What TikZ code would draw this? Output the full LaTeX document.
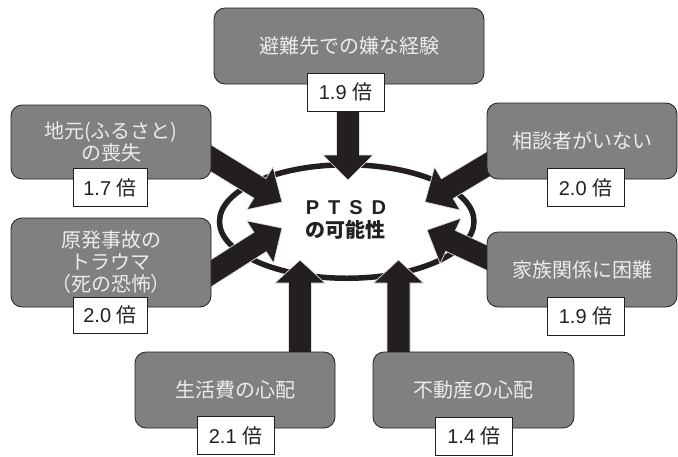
\documentclass[tikz,border=0pt]{standalone}
\usepackage{fontspec}
\setmainfont{Liberation Sans}
\newfontfamily\jp{Noto Sans CJK JP}
\usetikzlibrary{calc,shapes.geometric}
\pgfdeclarelayer{bg}
\pgfsetlayers{bg,main}
\definecolor{boxgray}{RGB}{128,128,131}
\definecolor{boxtext}{RGB}{236,236,236}
\definecolor{ink}{RGB}{35,31,32}
\tikzset{
  factor/.style={draw=ink, line width=0.8pt, fill=boxgray, rounded corners=11pt,
    text=boxtext, font=\jp\fontsize{20}{22}\selectfont, align=center, inner sep=0pt},
  ratio/.style={draw=ink, line width=0.8pt, fill=white, text=ink,
    font=\fontsize{20}{22}\selectfont, inner sep=0pt, minimum width=77pt, minimum height=38pt},
  fat/.style={fill=ink, draw=gray!25, line width=0.7pt, line join=miter},
  oval/.style={ellipse, draw=ink, line width=5.5pt, inner sep=0pt,
    minimum width=254.5pt, minimum height=113.5pt},
}
% #1 start, #2 tip, #3 head length
\newcommand\fatarrow[3]{%
  \coordinate (hb) at ($(#2)!#3!(#1)$);
  \path[fat] ($(#1)!11.5pt!90:(#2)$) -- ($(hb)!11.5pt!90:(#2)$) -- ($(hb)!25pt!90:(#2)$)
    -- (#2) -- ($(hb)!25pt!-90:(#2)$) -- ($(hb)!11.5pt!-90:(#2)$) -- ($(#1)!11.5pt!-90:(#2)$) -- cycle;
}
\begin{document}
\begin{tikzpicture}[x=1pt, y=-1pt]
\useasboundingbox (0,0) rectangle (678,456);

% factor boxes
\node[factor, minimum width=270pt, minimum height=76pt] (top) at (349,46) {避難先での嫌な経験};
\node[factor, minimum width=200pt, minimum height=74pt] (lt) at (111,142) {地元(ふるさと)\\の喪失};
\node[factor, minimum width=200pt, minimum height=89pt] (lm) at (111,262.5) {原発事故の\\トラウマ\\（死の恐怖）};
\node[factor, minimum width=190pt, minimum height=76pt] (rt) at (582,141) {相談者がいない};
\node[factor, minimum width=190pt, minimum height=75pt] (rm) at (582,269.5) {家族関係に困難};
\node[factor, minimum width=200pt, minimum height=76pt] (bl) at (235,390) {生活費の心配};
\node[factor, minimum width=201pt, minimum height=76pt] (br) at (473.5,390) {不動産の心配};

% ratio labels
\node[ratio] (topr) at (345.5,92) {1.9 {\jp 倍}};
\node[ratio, minimum width=74pt] (ltr) at (110,187.5) {1.7 {\jp 倍}};
\node[ratio, minimum width=74pt, minimum height=36pt] (lmr) at (110,315) {2.0 {\jp 倍}};
\node[ratio] (rtr) at (585.5,187.5) {2.0 {\jp 倍}};
\node[ratio] (rmr) at (585.5,316) {1.9 {\jp 倍}};
\node[ratio] (blr) at (235.5,435.5) {2.1 {\jp 倍}};
\node[ratio] (brr) at (474,436) {1.4 {\jp 倍}};

% centre
\node[font=\bfseries\fontsize{20}{22}\selectfont, text=ink, inner sep=0pt] (ptsd) at (346,208) {P\hspace{9pt}T\hspace{9pt}S\hspace{9pt}D};
\node[font=\jp\bfseries\fontsize{20}{22}\selectfont, text=ink, inner sep=0pt] (kano) at (345,229.5) {の可能性};

% arrow end points
\coordinate (sT) at (348,60);    \coordinate (tT) at (348,180);
\coordinate (sLT) at (191,146);  \coordinate (tLT) at (282,202);
\coordinate (sLM) at (191,286);  \coordinate (tLM) at (282,228);
\coordinate (sRT) at (507,153);  \coordinate (tRT) at (425,202);
\coordinate (sRM) at (507,267);  \coordinate (tRM) at (427,230);
\coordinate (sBL) at (300,380);  \coordinate (tBL) at (300,260);
\coordinate (sBR) at (398.5,380);\coordinate (tBR) at (398.5,260);

\begin{pgfonlayer}{bg}
  \fill[white] (0,0) rectangle (678,456);
  \node[oval] (ring) at (346.75,221.5) {};
  \fatarrow{sT}{tT}{25pt}
  \fatarrow{sLT}{tLT}{26pt}
  \fatarrow{sLM}{tLM}{26pt}
  \fatarrow{sRT}{tRT}{26pt}
  \fatarrow{sRM}{tRM}{26pt}
  \fatarrow{sBL}{tBL}{23pt}
  \fatarrow{sBR}{tBR}{23pt}
\end{pgfonlayer}
\end{tikzpicture}
\end{document}
